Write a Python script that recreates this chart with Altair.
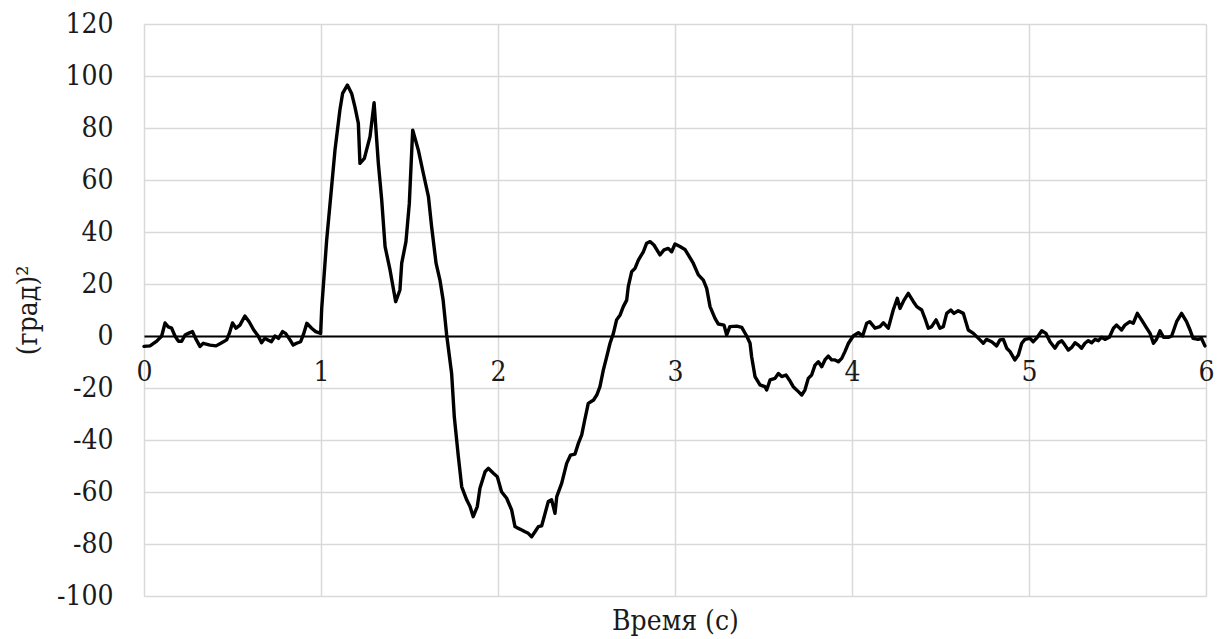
import altair as alt
import pandas as pd

# Time (s) and value ((град)^2)
time_s = [
    0.0, 0.034, 0.072, 0.10, 0.119, 0.137, 0.156, 0.175, 0.194, 0.213, 0.232, 0.25, 0.274, 0.292, 0.316,
    0.335, 0.373, 0.407, 0.439, 0.467, 0.482, 0.50, 0.52, 0.542, 0.57, 0.594, 0.62, 0.645, 0.664, 0.683,
    0.70, 0.72, 0.74, 0.76, 0.783, 0.80, 0.825, 0.843, 0.862, 0.885, 0.90, 0.92, 0.947, 0.97, 0.998,
    1.004, 1.032, 1.06, 1.079, 1.107, 1.122, 1.149, 1.173, 1.192, 1.211, 1.22, 1.245, 1.277, 1.30, 1.324,
    1.343, 1.362, 1.39, 1.422, 1.446, 1.456, 1.48, 1.499, 1.518, 1.55, 1.578, 1.607, 1.625, 1.65, 1.672,
    1.69, 1.71, 1.738, 1.753, 1.776, 1.795, 1.823, 1.842, 1.86, 1.883, 1.898, 1.927, 1.945, 1.974, 1.996,
    2.02, 2.049, 2.077, 2.096, 2.115, 2.134, 2.153, 2.171, 2.19, 2.209, 2.228, 2.247, 2.266, 2.284, 2.303,
    2.322, 2.332, 2.36, 2.388, 2.41, 2.435, 2.454, 2.473, 2.49, 2.51, 2.54, 2.558, 2.576, 2.595, 2.614,
    2.633, 2.652, 2.67, 2.69, 2.708, 2.727, 2.736, 2.755, 2.774, 2.793, 2.821, 2.84, 2.859, 2.881, 2.915,
    2.938, 2.962, 2.981, 3.0, 3.028, 3.056, 3.075, 3.103, 3.132, 3.16, 3.179, 3.198, 3.226, 3.245, 3.277,
    3.292, 3.31, 3.349, 3.377, 3.405, 3.424, 3.433, 3.452, 3.48, 3.508, 3.518, 3.537, 3.565, 3.584, 3.603,
    3.627, 3.646, 3.668, 3.697, 3.716, 3.734, 3.753, 3.772, 3.791, 3.81, 3.829, 3.847, 3.866, 3.885, 3.904,
    3.923, 3.942, 3.96, 3.98, 4.007, 4.036, 4.06, 4.083, 4.10, 4.13, 4.158, 4.177, 4.205, 4.233, 4.256,
    4.271, 4.294, 4.318, 4.347, 4.366, 4.394, 4.412, 4.431, 4.45, 4.475, 4.497, 4.516, 4.535, 4.558, 4.576,
    4.60, 4.629, 4.657, 4.686, 4.723, 4.742, 4.76, 4.789, 4.817, 4.836, 4.855, 4.874, 4.893, 4.92, 4.94,
    4.959, 4.977, 5.006, 5.024, 5.047, 5.072, 5.096, 5.119, 5.147, 5.166, 5.185, 5.203, 5.222, 5.241, 5.26,
    5.279, 5.297, 5.316, 5.335, 5.354, 5.373, 5.392, 5.41, 5.429, 5.454, 5.477, 5.495, 5.523, 5.542, 5.57,
    5.589, 5.612, 5.636, 5.665, 5.684, 5.703, 5.72, 5.74, 5.76, 5.787, 5.806, 5.834, 5.862, 5.89, 5.91,
    5.927, 5.955, 5.974, 5.994,
]
value = [
    -4, -3.8, -2, 0, 5, 3.5, 3, 0, -2, -2, 0.4, 1, 1.7, -1, -4,
    -2.8, -3.5, -3.8, -2.6, -1.5, 1, 5, 3, 4.2, 7.7, 5.5, 2.3, 0, -2.6, -0.9,
    -1.5, -2.2, 0, -0.9, 1.7, 1, -1.5, -3.5, -2.8, -2.2, 0.4, 4.9, 3, 1.7, 1,
    10.6, 36.9, 57.4, 71.5, 87, 93.3, 96.5, 93.3, 88, 81.8, 66.4, 68.3, 76.7, 89.7, 66.4,
    52.3, 34.4, 25.4, 13.2, 17.7, 28, 36.3, 51, 79.2, 71.5, 62.6, 53.6, 42, 28, 21.5,
    13.8, 0.4, -14.4, -31, -46.4, -58, -63, -65.6, -69.5, -65.6, -58.6, -52.2, -50.9, -52.8, -54.1,
    -59.9, -62.4, -66.9, -73.3, -74, -74.6, -75.3, -75.9, -77.2, -75.3, -73.3, -73, -68.2, -63.7, -63,
    -68.2, -61.8, -56.6, -49, -45.8, -45.4, -41.3, -38, -32.3, -25.9, -24.6, -22.7, -19.5, -13.1, -8,
    -2.8, 1, 6.2, 8.1, 11.3, 13.8, 19, 24.7, 26, 29.2, 32.4, 35.7, 36.3, 35, 31.2,
    33.1, 33.7, 32.4, 35.4, 34.4, 33.3, 31.2, 28, 23.5, 21.5, 18.3, 11.3, 6.8, 4.6, 4.2,
    0.4, 3.6, 3.8, 3.3, 0, -2.8, -8, -15.6, -18.8, -19.5, -20.8, -16.9, -16.3, -14.4, -15.6,
    -15, -16.9, -19.5, -21.4, -22.7, -20.8, -16.3, -15, -11.2, -9.9, -11.8, -9.2, -7.7, -9.2, -9.2,
    -9.9, -8.6, -6, -2.8, 0, 1.3, 0, 4.9, 5.5, 3, 3.6, 5.1, 3, 10, 14.5,
    10.6, 13.8, 16.4, 13.2, 11.3, 10, 6.8, 3, 3.6, 6.2, 3, 3.6, 8.7, 10, 8.7,
    9.7, 8.7, 2.3, 1, -1.5, -2.8, -1.3, -2.2, -3.8, -1.5, -1.3, -4.7, -6, -9.2, -7.3,
    -2.8, -1.3, -0.9, -2.2, -0.5, 2, 1, -2.2, -4.7, -2.6, -1.8, -3.5, -5.4, -4.4, -2.6,
    -3.5, -4.7, -2.8, -1.8, -2.6, -1.3, -1.8, -0.5, -1.3, -0.5, 3, 4.2, 2.3, 4.2, 5.5,
    4.9, 8.7, 6.2, 3, 1, -2.8, -1.3, 2, -0.5, -0.5, 0, 5.5, 8.7, 5.5, 2.3,
    -0.9, -1.3, -0.9, -3.8,
]

x_ticks = [0, 1, 2, 3, 4, 5, 6]
y_ticks = [-100, -80, -60, -40, -20, 0, 20, 40, 60, 80, 100, 120]

df = pd.DataFrame({"t": time_s, "v": value})

FONT = "DejaVu Serif Condensed, DejaVu Serif"
W, H = 1062, 572

chart = (
    alt.Chart(df)
    .mark_line(color="black", strokeWidth=3.4, strokeJoin="round", strokeCap="round")
    .encode(
        x=alt.X(
            "t:Q",
            scale=alt.Scale(domain=[0, 6], nice=False, zero=False),
            axis=alt.Axis(
                values=x_ticks,
                title="Время (с)",
                offset=-260,
                domainColor="black",
                domainWidth=2,
                ticks=False,
                tickSize=0,
                labelPadding=22,
                labelFlush=False,
                labelBaseline="top",
                labelExpr="'' + datum.value",
                gridColor="#d9d9d9",
                gridWidth=1.5,
                titleY=285,
                titleBaseline="middle",
            ),
        ),
        y=alt.Y(
            "v:Q",
            scale=alt.Scale(domain=[-100, 120], nice=False, zero=False),
            axis=alt.Axis(
                values=y_ticks,
                title="(град)²",
                domain=False,
                ticks=False,
                tickSize=0,
                labelPadding=31,
                labelFlush=False,
                labelExpr="'' + datum.value",
                gridColor="#d9d9d9",
                gridWidth=1.5,
                titleX=-116,
                titleY=286,
                titleAngle=-90,
                titleBaseline="middle",
            ),
        ),
    )
    .properties(
        width=W,
        height=H,
        autosize=alt.AutoSizeParams(type="none"),
        padding={"left": 144, "top": 24, "right": 14, "bottom": 43},
        background="white",
    )
    .configure_view(stroke=None)
    .configure_axis(
        labelFont=FONT,
        labelFontSize=28,
        labelColor="#1a1a1a",
        titleFont=FONT,
        titleFontSize=28,
        titleFontWeight="normal",
        titleColor="#1a1a1a",
    )
)

chart.save("out.html", embed_options={"renderer": "svg", "actions": False})
